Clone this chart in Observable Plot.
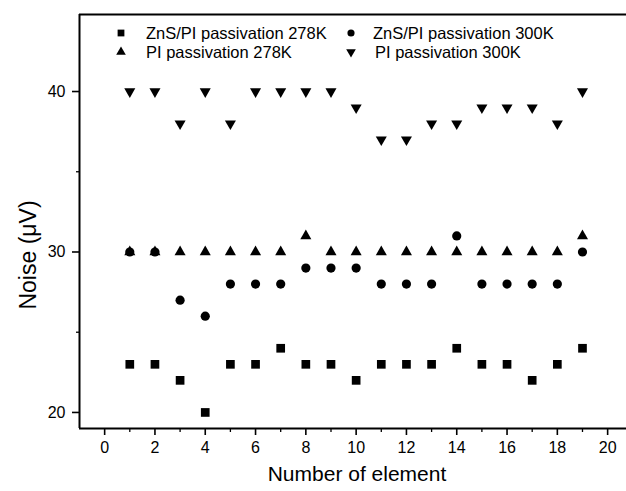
<!DOCTYPE html>
<html><head><meta charset="utf-8">
<script src="https://cdn.jsdelivr.net/npm/d3@7"></script>
<script src="https://cdn.jsdelivr.net/npm/@observablehq/plot@0.6"></script>
<style>body{margin:0;background:#fff;} #chart{position:relative;width:626px;height:491px;}</style>
</head><body><div id="chart"></div>
<script>
const elements = d3.range(1, 20);
const znsPi278 = [23,23,22,20,23,23,24,23,23,22,23,23,23,24,23,23,22,23,24];
const znsPi300 = [30,30,27,26,28,28,28,29,29,29,28,28,28,31,28,28,28,28,30];
const pi278    = [30,30,30,30,30,30,30,31,30,30,30,30,30,30,30,30,30,30,31];
const pi300    = [40,40,38,40,38,40,40,40,40,39,37,37,38,38,39,39,39,38,40];
const seriesNames = ["ZnS/PI passivation 278K","ZnS/PI passivation 300K","PI passivation 278K","PI passivation 300K"];
const xMajor = [0,2,4,6,8,10,12,14,16,18,20];
const xMinor = [1,3,5,7,9,11,13,15,17,19];
const yMajor = [20,30,40];
const yMinor = [25,35];

const rows = (vals) => elements.map((e,i)=>({x:e,y:vals[i]}));
const font = "Liberation Sans, Arial, sans-serif";
const xDom = [-1, 20.75], yDom = [19, 44.8];

const plot = Plot.plot({
  width: 626, height: 491,
  marginLeft: 79, marginRight: 0, marginTop: 14, marginBottom: 63,
  style: {fontFamily: font, fontSize: "16px", color: "#000", background: "#fff"},
  x: {domain: xDom},
  y: {domain: yDom},
  marks: [
    Plot.axisX({ticks: xMajor, tickSize: 7, tickPadding: 6, strokeWidth: 1.6, label: null, fontSize: 16}),
    Plot.axisX({ticks: xMinor, tickSize: 4, text: null, label: null, strokeWidth: 1.3}),
    Plot.axisY({ticks: yMajor, tickSize: 7, tickPadding: 7, strokeWidth: 1.6, label: null, fontSize: 16}),
    Plot.axisY({ticks: yMinor, tickSize: 3, text: null, label: null, strokeWidth: 1.3}),
    Plot.ruleX([xDom[0]], {strokeWidth: 2}),
    Plot.ruleY([yDom[0]], {strokeWidth: 2}),
    Plot.ruleY([yDom[1]], {strokeWidth: 2}),
    Plot.dot(rows(znsPi300), {x:"x", y:"y", symbol:"circle", r:4.6, fill:"#000", stroke:"none"}),
    Plot.dot(rows(pi278), {x:"x", y:"y", symbol:"triangle", r:4.1, fill:"#000", stroke:"none"}),
    Plot.dot(rows(pi300), {x:"x", y:"y", symbol:"triangle", rotate:180, r:4.1, fill:"#000", stroke:"none"}),
    Plot.dot(rows(znsPi278), {x:"x", y:"y", symbol:"square", r:4.9, fill:"#000", stroke:"none"})
  ]
});
document.getElementById("chart").appendChild(plot);

const svg = d3.select(plot);
// axis titles
svg.append("text").attr("x", 357).attr("y", 481).attr("text-anchor","middle")
  .attr("font-family", font).attr("font-size", 21).attr("fill","#000").text("Number of element");
svg.append("text").attr("transform","translate(36,255) rotate(-90)").attr("text-anchor","middle")
  .attr("font-family", font).attr("font-size", 23).attr("fill","#000").text("Noise (\u03bcV)");

// legend
const legendItems = [
  {name: seriesNames[0], sym: d3.symbolSquare, size: 46, rot: 0, mx: 121, my: 33, tx: 146},
  {name: seriesNames[1], sym: d3.symbolCircle, size: 40, rot: 0, mx: 351, my: 33, tx: 373},
  {name: seriesNames[2], sym: d3.symbolTriangle, size: 40, rot: 0, mx: 121, my: 52, tx: 146},
  {name: seriesNames[3], sym: d3.symbolTriangle, size: 40, rot: 180, mx: 351, my: 52, tx: 375}
];
const lg = svg.append("g");
legendItems.forEach(d => {
  lg.append("path").attr("d", d3.symbol(d.sym, d.size)()).attr("fill","#000")
    .attr("transform", `translate(${d.mx},${d.my}) rotate(${d.rot})`);
  lg.append("text").attr("x", d.tx).attr("y", d.my).attr("dy","0.35em").attr("text-anchor","start")
    .attr("font-family", font).attr("font-size", 16.5).attr("fill","#000").text(d.name);
});
</script>
</body></html>
